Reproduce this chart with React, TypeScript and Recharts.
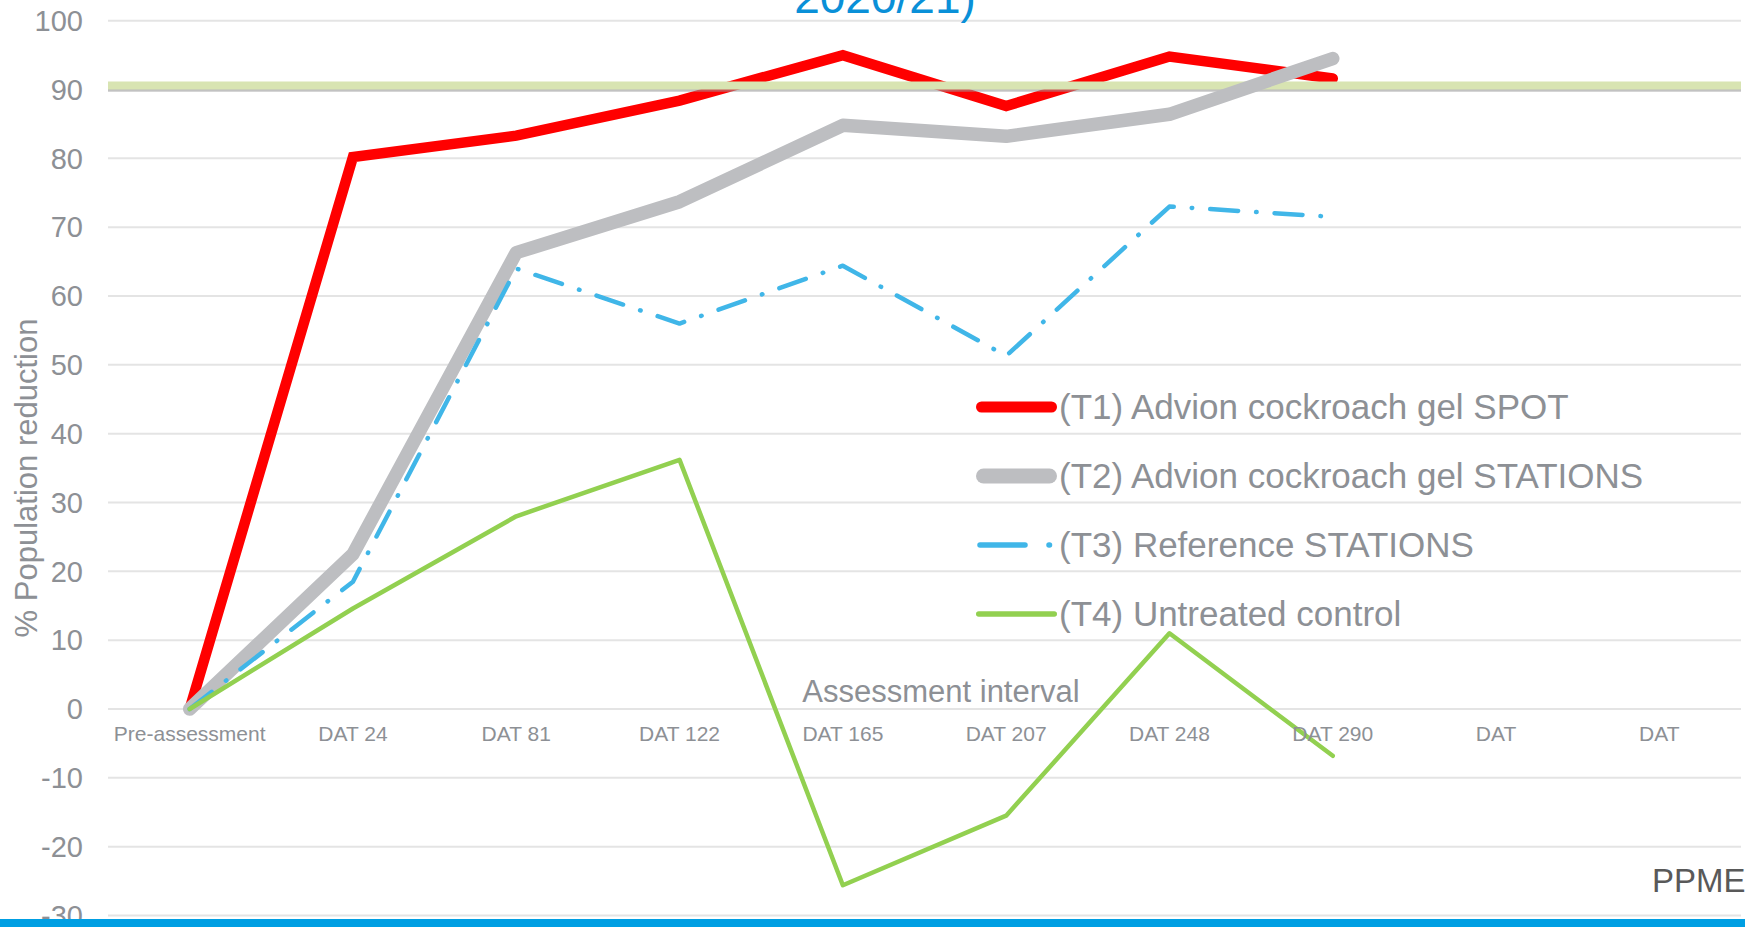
import React from 'react';
import { LineChart, Line, XAxis, YAxis, CartesianGrid, ReferenceLine } from 'recharts';

const categories = ['Pre-assessment', 'DAT 24', 'DAT 81', 'DAT 122', 'DAT 165', 'DAT 207', 'DAT 248', 'DAT 290', 'DAT', 'DAT'];
const t1Spot = [0, 80.2, 83.3, 88.4, 95.0, 87.6, 94.8, 91.6, null, null];
const t2Stations = [0, 22.5, 66.3, 73.7, 84.8, 83.2, 86.4, 94.5, null, null];
const t3Reference = [0, 18.5, 64.0, 56.0, 64.4, 51.3, 73.0, 71.5, null, null];
const t4Control = [0, 14.6, 28.0, 36.2, -25.6, -15.5, 11.0, -6.8, null, null];
const yTicks = [-30, -20, -10, 0, 10, 20, 30, 40, 50, 60, 70, 80, 90, 100];
const targetLevel = 90.6;

const W = 1745;
const H = 927;
const Y_MIN = -30;
const Y_MAX = 100;
const MARGIN = { top: 20.7, right: 4, bottom: 10.5, left: 0 };
const Y_AXIS_W = 108;
const X_AXIS_H = 1;
const FONT = '"Liberation Sans", Arial, sans-serif';
const GREY_TEXT = '#8d9095';

const data = categories.map((name, i) => ({
  name,
  t1: t1Spot[i],
  t2: t2Stations[i],
  t3: t3Reference[i],
  t4: t4Control[i],
}));

const series = [
  { key: 't1', label: '(T1) Advion cockroach gel SPOT', color: '#ff0000', width: 10.5, dash: undefined as string | undefined },
  { key: 't2', label: '(T2) Advion cockroach gel STATIONS', color: '#bdbec1', width: 13.5, dash: undefined as string | undefined },
  { key: 't3', label: '(T3) Reference STATIONS', color: '#40b6e8', width: 4.5, dash: '28 18 0.5 18' },
  { key: 't4', label: '(T4) Untreated control', color: '#92d050', width: 4.5, dash: undefined as string | undefined },
];

// half a category of padding on each side, like a band axis
const plotW = W - MARGIN.left - MARGIN.right - Y_AXIS_W;
const halfBand = plotW / categories.length / 2;

// x labels sit on the zero line, not at the bottom of the plot
const plotH = H - MARGIN.top - MARGIN.bottom - X_AXIS_H;
const zeroY = MARGIN.top + (plotH * (Y_MAX - 0)) / (Y_MAX - Y_MIN);

const CategoryTick = ({ x, payload }: { x?: number; payload?: { value: string } }) => (
  <text x={x} y={zeroY + 32} textAnchor="middle" fontSize={21} fontFamily={FONT} fill={GREY_TEXT}>
    {payload?.value}
  </text>
);

const LegendIcon = ({ s }: { s: (typeof series)[number] }) => {
  const w = s.key === 't2' ? 15 : s.key === 't1' ? 11 : 5.5;
  return (
    <svg width={84} height={20} style={{ display: 'block' }}>
      {s.key === 't3' ? (
        <>
          <line x1={5} y1={10} x2={50} y2={10} stroke={s.color} strokeWidth={w} strokeLinecap="round" />
          <line x1={74} y1={10} x2={74.5} y2={10} stroke={s.color} strokeWidth={w} strokeLinecap="round" />
        </>
      ) : (
        <line x1={w / 2 + 1} y1={10} x2={82 - w / 2} y2={10} stroke={s.color} strokeWidth={w} strokeLinecap="round" />
      )}
    </svg>
  );
};

export default function App() {
  return (
    <div style={{ position: 'absolute', left: 0, top: 0, width: W, height: H, overflow: 'hidden', background: '#fff', fontFamily: FONT }}>
      <LineChart width={W} height={H} data={data} margin={MARGIN}>
        <CartesianGrid vertical={false} stroke="#e4e4e4" strokeWidth={2} />
        <XAxis
          dataKey="name"
          height={X_AXIS_H}
          axisLine={false}
          tickLine={false}
          interval={0}
          padding={{ left: halfBand, right: halfBand }}
          tick={<CategoryTick />}
        />
        <YAxis
          width={Y_AXIS_W}
          domain={[Y_MIN, Y_MAX]}
          ticks={yTicks}
          type="number"
          interval={0}
          axisLine={false}
          tickLine={false}
          tickSize={0}
          tickMargin={25}
          tick={{ fontSize: 29, fill: GREY_TEXT, fontFamily: FONT }}
        />
        <Line
          dataKey="t1"
          stroke={series[0].color}
          strokeWidth={series[0].width}
          dot={false}
          activeDot={false}
          strokeLinecap="round"
          isAnimationActive={false}
        />
        <ReferenceLine y={targetLevel - 0.55} stroke="#9a9a9a" strokeOpacity={0.55} strokeWidth={5} />
        <ReferenceLine y={targetLevel} stroke="#d8e4b2" strokeWidth={8} />
        {series.slice(1).map((s) => (
          <Line
            key={s.key}
            dataKey={s.key}
            stroke={s.color}
            strokeWidth={s.width}
            strokeDasharray={s.dash}
            strokeLinecap="round"
            strokeLinejoin="round"
            dot={false}
            activeDot={false}
            isAnimationActive={false}
          />
        ))}
      </LineChart>

      <svg width={W} height={H} style={{ position: 'absolute', left: 0, top: 0, pointerEvents: 'none' }}>
        <text x={885} y={13} textAnchor="middle" fontSize={46} fontFamily={FONT} fill="#0a90d8">
          2020/21)
        </text>
        <text
          transform={`translate(37, 478) rotate(-90)`}
          textAnchor="middle"
          fontSize={31}
          fontFamily={FONT}
          fill={GREY_TEXT}
        >
          % Population reduction
        </text>
        <text x={941} y={702} textAnchor="middle" fontSize={31} fontFamily={FONT} fill={GREY_TEXT}>
          Assessment interval
        </text>
        <text x={1652} y={892} fontSize={33} fontFamily={FONT} fill="#595959">
          PPME2
        </text>
        <rect x={0} y={919} width={W} height={8} fill="#009fe3" />
      </svg>

      <div style={{ position: 'absolute', left: 975, top: 372.5 }}>
        {series.map((s) => (
          <div key={s.key} style={{ height: 69, display: 'flex', alignItems: 'center' }}>
            <LegendIcon s={s} />
            <span style={{ fontSize: 35, color: GREY_TEXT, whiteSpace: 'nowrap' }}>{s.label}</span>
          </div>
        ))}
      </div>
    </div>
  );
}
